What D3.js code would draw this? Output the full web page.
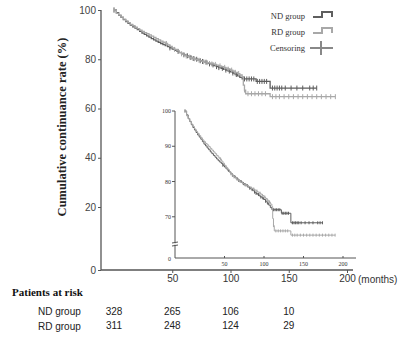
<!DOCTYPE html>
<html><head><meta charset="utf-8">
<script src="https://cdn.jsdelivr.net/npm/d3@7"></script>
<style>body{margin:0;background:#fff}svg{display:block}</style>
</head><body>
<svg id="c" width="400" height="349"></svg>
<script>
// ---- data (months, cumulative continuance %) ----
const ndTime = [0,2,4,6,8,10,12,14,16,18,20,22,24,26,28,30,32,34,36,38,40,42,44,46,48,50,52,54,56,58,60,62,64,66,68,70,72,74,76,78,80,82,84,86,88,90,92,94,96,98,100,102,104,106,108,110,122,134,174];
const ndSurv = [100,98.9,97.8,97.0,96.1,95.3,94.6,93.9,93.2,92.6,92.0,91.3,90.6,90.1,89.5,89.0,88.4,87.9,87.4,86.9,86.4,85.9,85.5,85.1,84.6,84.1,83.6,83.2,82.7,82.2,81.8,81.4,81.1,80.7,80.3,80.0,79.7,79.4,79.1,78.8,78.4,78.1,77.7,77.4,77.0,76.6,76.3,75.9,75.6,75.2,74.9,74.4,73.8,73.3,72.6,72.0,71.0,68.3,68.3];
const rdTime = [0,2,4,6,8,10,12,14,16,18,20,22,24,26,28,30,32,34,36,38,40,42,44,46,48,50,52,54,56,58,60,62,64,66,68,70,72,74,76,78,80,82,84,86,88,90,92,94,96,98,100,102,104,106,108,110,111,112,113,134,190];
const rdSurv = [100,98.6,97.9,97.1,96.3,95.6,94.9,94.2,93.6,93.0,92.4,91.8,91.3,90.8,90.4,89.9,89.4,88.9,88.4,87.9,87.4,86.9,86.4,85.8,85.2,84.6,84.0,83.4,82.8,82.2,81.7,81.3,80.9,80.6,80.2,79.9,79.6,79.3,79.0,78.8,78.6,78.4,78.1,77.9,77.6,77.3,77.0,76.7,76.4,76.0,75.6,75.2,74.7,74.2,73.6,72.9,69.5,67.5,66.0,64.8,64.8];
const ndCensor = [0,48,55,60,63,66,68,71,74,76,79,82,85,88,90,93,96,99,102,105,112,114,116,118,120,123,125,127,129,131,136,138,140,142,144,147,152,157,162,168,171,174];
const rdCensor = [0,45,52,58,62,65,69,73,77,80,84,87,91,95,98,101,104,107,112,115,118,121,124,127,130,136,139,142,146,150,154,158,162,166,170,174,178,182,186,190];
const yTicks = [0,20,40,60,80,100];
const xTicks = [50,100,150,200];
const insetYTicks = [70,80,90,100];
const riskTimes = [0,50,100,150];
const riskND = [328,265,106,10];
const riskRD = [311,248,124,29];
const legendLabels = ["ND group","RD group","Censoring"];

const ndColor = "#5e5e5e", rdColor = "#a8a8a8", axisColor = "#555";
const svg = d3.select("#c");

function survAt(times, surv, t){
  let v = surv[0];
  for(let i=0;i<times.length;i++){ if(times[i]<=t) v = surv[i]; }
  return v;
}

function drawKM(g, x, y, lw, ch){
  const line = d3.line().x(d=>x(d[0])).y(d=>y(d[1])).curve(d3.curveStepAfter);
  [[ndTime,ndSurv,ndCensor,ndColor],[rdTime,rdSurv,rdCensor,rdColor]].forEach(([T,S,C,col])=>{
    g.append("path").attr("d", line(T.map((t,i)=>[t,S[i]])))
      .attr("fill","none").attr("stroke",col).attr("stroke-width",lw);
    g.selectAll(null).data(C).enter().append("line")
      .attr("x1",d=>x(d)).attr("x2",d=>x(d))
      .attr("y1",d=>y(survAt(T,S,d))-ch).attr("y2",d=>y(survAt(T,S,d))+ch)
      .attr("stroke",col).attr("stroke-width",1);
  });
}

// ---- main chart ----
const x = d3.scaleLinear().domain([0,200]).range([114,347]);
const y = d3.scaleLinear().domain([0,20,100]).range([270,207,10]);

const gy = svg.append("g").attr("transform","translate(101,0)")
  .call(d3.axisLeft(y).tickValues(yTicks).tickSize(3).tickPadding(2));
gy.select(".domain").remove();
gy.selectAll("line").attr("stroke",axisColor);
gy.selectAll("text").attr("font-family","Liberation Sans, Arial, sans-serif").attr("font-size",10).attr("fill","#444");
svg.append("line").attr("x1",101).attr("x2",101).attr("y1",y(100)).attr("y2",y(0)).attr("stroke",axisColor).attr("stroke-width",1.3);

const gx = svg.append("g").attr("transform","translate(0,270)")
  .call(d3.axisBottom(x).tickValues(xTicks).tickSize(3).tickPadding(2));
gx.select(".domain").remove();
gx.selectAll("line").attr("stroke",axisColor);
gx.selectAll("text").attr("font-family","Liberation Sans, Arial, sans-serif").attr("font-size",10).attr("fill","#333");
svg.append("line").attr("x1",101).attr("x2",353).attr("y1",270).attr("y2",270).attr("stroke",axisColor).attr("stroke-width",1.3);
svg.append("text").attr("x",358).attr("y",282.5).text("(months)")
  .attr("font-family","Liberation Sans, Arial, sans-serif").attr("font-size",10).attr("fill","#333");

svg.append("text").attr("transform","translate(66,127) rotate(-90)").attr("text-anchor","middle")
  .attr("font-family","Liberation Serif, Times New Roman, serif").attr("font-weight","bold").attr("font-size",12.5)
  .attr("fill","#222").text("Cumulative continuance rate (%)");

drawKM(svg.append("g"), x, y, 1.3, 2.5);

// ---- legend ----
const lg = svg.append("g").attr("font-family","Liberation Serif, Times New Roman, serif").attr("font-size",8.5).attr("fill","#333");
legendLabels.forEach((t,i)=>{
  lg.append("text").attr("x",305).attr("y",19+i*16).attr("text-anchor","end").text(t);
});
[[ndColor,17],[rdColor,33]].forEach(([c,by])=>{
  lg.append("path").attr("d",`M313,${by}H322V${by-5}H332V${by}`).attr("fill","none").attr("stroke",c).attr("stroke-width",2);
});
lg.append("line").attr("x1",310).attr("x2",333).attr("y1",48).attr("y2",48).attr("stroke","#888").attr("stroke-width",2);
lg.append("line").attr("x1",321).attr("x2",321).attr("y1",41).attr("y2",55).attr("stroke","#888").attr("stroke-width",2);

// ---- inset ----
const xi = d3.scaleLinear().domain([0,200]).range([185,343]);
const yi = d3.scaleLinear().domain([0,62,100]).range([258,245,111]);
const ig = svg.append("g");
ig.append("line").attr("x1",175).attr("x2",175).attr("y1",111).attr("y2",258).attr("stroke",axisColor).attr("stroke-width",1);
ig.append("line").attr("x1",175).attr("x2",356).attr("y1",258).attr("y2",258).attr("stroke",axisColor).attr("stroke-width",1);
ig.selectAll(null).data(insetYTicks).enter().append("line")
  .attr("x1",172).attr("x2",175).attr("y1",d=>yi(d)).attr("y2",d=>yi(d)).attr("stroke",axisColor);
ig.selectAll(null).data(insetYTicks).enter().append("text")
  .attr("x",171).attr("y",d=>yi(d)+2).attr("text-anchor","end").text(d=>d)
  .attr("font-family","Liberation Serif, serif").attr("font-size",6).attr("fill","#333");
ig.append("text").attr("x",171).attr("y",261).attr("text-anchor","end").text("0")
  .attr("font-family","Liberation Serif, serif").attr("font-size",6).attr("fill","#333");
ig.selectAll(null).data(xTicks).enter().append("line")
  .attr("x1",d=>xi(d)).attr("x2",d=>xi(d)).attr("y1",256).attr("y2",258).attr("stroke",axisColor);
ig.selectAll(null).data(xTicks).enter().append("text")
  .attr("x",d=>xi(d)).attr("y",266).attr("text-anchor","middle").text(d=>d)
  .attr("font-family","Liberation Serif, serif").attr("font-size",6).attr("fill","#333");
// axis break mark
ig.append("line").attr("x1",172).attr("x2",178).attr("y1",243).attr("y2",242).attr("stroke",axisColor);
ig.append("line").attr("x1",172).attr("x2",178).attr("y1",246).attr("y2",245).attr("stroke",axisColor);
ig.append("rect").attr("x",174).attr("y",243.3).attr("width",2).attr("height",1.4).attr("fill","#fff");

drawKM(ig, xi, yi, 1, 1.5);

// ---- patients at risk ----
svg.append("text").attr("x",12).attr("y",296).text("Patients at risk")
  .attr("font-family","Liberation Serif, Times New Roman, serif").attr("font-weight","bold").attr("font-size",11).attr("fill","#111");
const rk = svg.append("g").attr("font-family","Liberation Sans, Arial, sans-serif").attr("font-size",10).attr("fill","#222");
rk.append("text").attr("x",38).attr("y",314.5).text("ND group");
rk.append("text").attr("x",38).attr("y",329.5).text("RD group");
rk.selectAll(null).data(riskND).enter().append("text").attr("x",(d,i)=>x(riskTimes[i])).attr("y",314.5).attr("text-anchor","middle").text(d=>d);
rk.selectAll(null).data(riskRD).enter().append("text").attr("x",(d,i)=>x(riskTimes[i])).attr("y",329).attr("text-anchor","middle").text(d=>d);
</script>
</body></html>
